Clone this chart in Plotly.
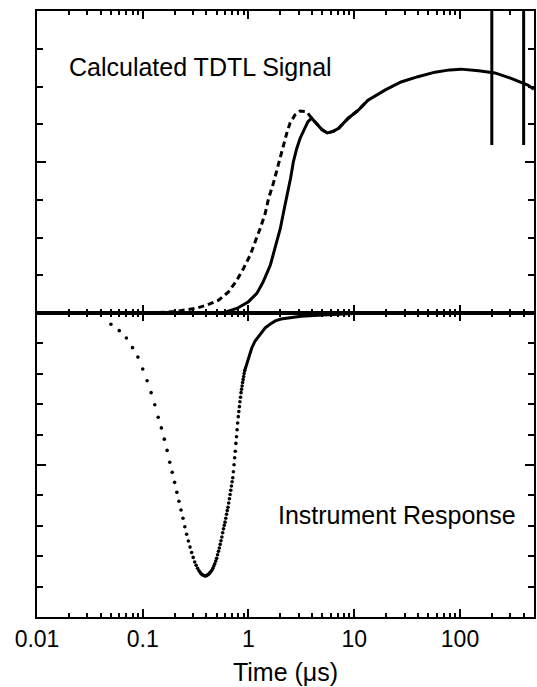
import plotly.graph_objects as go

# ---------------- data ----------------
# Calculated TDTL signal, solid curve (time in µs, arbitrary units)
sig_t = [0.40, 0.50, 0.581, 0.776, 1.0, 1.20, 1.38, 1.61, 1.79, 2.00, 2.15, 2.32, 2.50, 2.66,
         2.86, 3.08, 3.45, 3.65, 3.96, 4.38, 4.94, 5.54, 6.33, 7.12, 8.78, 11.0, 13.5, 19.7,
         27.7, 40, 58.1, 80, 102, 150, 214, 300, 438, 500]
sig_y = [0.0, 0.0, 0.01, 0.12, 0.30, 0.52, 0.83, 1.27, 1.71, 2.24, 2.68, 3.12, 3.57, 4.01,
         4.36, 4.63, 4.93, 5.07, 5.16, 5.03, 4.86, 4.77, 4.81, 4.89, 5.16, 5.38, 5.64, 5.91,
         6.12, 6.26, 6.38, 6.44, 6.46, 6.42, 6.36, 6.22, 6.04, 5.93]

# Calculated TDTL signal, dashed curve
dash_t = [0.114, 0.188, 0.314, 0.404, 0.521, 0.648, 0.776, 0.897, 1.04, 1.16, 1.29, 1.44,
          1.55, 1.72, 1.85, 1.99, 2.14, 2.30, 2.47, 2.76, 3.07, 3.55, 3.96, 4.38, 4.94, 5.54,
          6.33, 7.12, 8.78, 11.0, 13.5]
dash_y = [0.0, 0.03, 0.12, 0.21, 0.34, 0.56, 0.87, 1.18, 1.54, 1.89, 2.24, 2.64,
          3.04, 3.44, 3.79, 4.14, 4.45, 4.76, 5.03, 5.25, 5.35, 5.33, 5.16, 5.03, 4.86, 4.77,
          4.81, 4.89, 5.16, 5.38, 5.64]

# Vertical marker lines in the upper panel
marker_times = [200, 400]
marker_bottom = 4.45
marker_top = 8

# Instrument response, sampled points (dotted part)
ir_t = [0.05, 0.06, 0.07, 0.08, 0.09, 0.10, 0.11, 0.12, 0.13, 0.14, 0.15, 0.16, 0.17, 0.18,
        0.19, 0.20, 0.21, 0.22, 0.23, 0.24, 0.25, 0.26, 0.27, 0.28, 0.29, 0.30, 0.31, 0.32,
        0.33, 0.34, 0.35, 0.36, 0.37, 0.38, 0.39, 0.40, 0.41, 0.42, 0.43, 0.44, 0.45, 0.46,
        0.47, 0.48, 0.49, 0.50, 0.51, 0.52, 0.53, 0.54, 0.55, 0.56, 0.57, 0.58, 0.59, 0.60,
        0.61, 0.62, 0.63, 0.64, 0.65, 0.66, 0.67, 0.68, 0.69, 0.70, 0.71, 0.72, 0.73, 0.74,
        0.75, 0.76, 0.77, 0.78, 0.79, 0.80, 0.81, 0.82, 0.83, 0.84, 0.85, 0.86, 0.87, 0.88,
        0.89, 0.90, 0.91, 0.92]
ir_y = [-0.37, -0.58, -0.82, -1.14, -1.45, -1.84, -2.23, -2.62, -3.02, -3.43, -3.78, -4.15,
        -4.52, -4.91, -5.24, -5.57, -5.90, -6.19, -6.48, -6.75, -7.03, -7.28, -7.50, -7.70,
        -7.88, -8.04, -8.19, -8.30, -8.40, -8.48, -8.54, -8.59, -8.62, -8.64, -8.65, -8.64,
        -8.62, -8.59, -8.55, -8.51, -8.46, -8.40, -8.32, -8.25, -8.16, -8.07, -7.95, -7.84,
        -7.73, -7.61, -7.49, -7.37, -7.23, -7.10, -6.98, -6.88, -6.75, -6.62, -6.50, -6.39,
        -6.25, -6.11, -5.97, -5.83, -5.69, -5.55, -5.42, -5.22, -4.99, -4.76, -4.55, -4.29,
        -4.07, -3.84, -3.62, -3.41, -3.24, -3.08, -2.92, -2.77, -2.62, -2.51, -2.40, -2.29,
        -2.19, -2.09, -1.99, -1.90]

# Instrument response, continuous tail
tail_t = [0.92, 1.0, 1.074, 1.155, 1.29, 1.44, 1.61, 1.79, 2.03, 2.37, 3.14, 4.59, 7.07, 10.9, 20]
tail_y = [-1.90, -1.48, -1.15, -0.92, -0.69, -0.49, -0.36, -0.26, -0.20, -0.16, -0.11, -0.07,
          -0.03, -0.01, 0.0]

tick_vals = [0.01, 0.1, 1, 10, 100]
tick_text = ["0.01", "0.1", "1", "10", "100"]

# ---------------- figure ----------------
FONT = "Liberation Sans, Arial, Helvetica, sans-serif"
fig = go.Figure()

fig.add_trace(go.Scatter(x=dash_t, y=dash_y, mode="lines", xaxis="x", yaxis="y",
                         line=dict(color="black", width=3, dash="6px,4px"), showlegend=False))
fig.add_trace(go.Scatter(x=sig_t, y=sig_y, mode="lines", xaxis="x", yaxis="y",
                         line=dict(color="black", width=3), showlegend=False))
for t in marker_times:
    fig.add_trace(go.Scatter(x=[t, t], y=[marker_bottom, marker_top], mode="lines",
                             xaxis="x", yaxis="y", line=dict(color="black", width=3),
                             showlegend=False))
fig.add_trace(go.Scatter(x=ir_t, y=ir_y, mode="markers", xaxis="x2", yaxis="y2",
                         marker=dict(color="black", size=3.6), showlegend=False))
fig.add_trace(go.Scatter(x=tail_t, y=tail_y, mode="lines", xaxis="x2", yaxis="y2",
                         line=dict(color="black", width=3), showlegend=False))

split = 304 / 606

xcommon = dict(type="log", range=[-2, 2.70], showgrid=False, zeroline=False,
               showline=True, linecolor="black", linewidth=2, mirror="allticks",
               ticks="inside", ticklen=8, tickwidth=1.5, tickcolor="black",
               tickvals=tick_vals,
               minor=dict(ticks="inside", ticklen=4, tickwidth=1.5, tickcolor="black",
                          dtick="D1", showgrid=False),
               domain=[0, 1])

ycommon = dict(showgrid=False, zeroline=False, showline=True, linecolor="black",
               linewidth=2, mirror="allticks", ticks="inside", ticklen=9, tickwidth=1.5,
               tickcolor="black", showticklabels=False)

fig.update_layout(
    width=537, height=687,
    margin=dict(l=37, r=1, t=11, b=70),
    paper_bgcolor="white", plot_bgcolor="white",
    font=dict(family=FONT, color="black", size=23),
    xaxis=dict(**xcommon, anchor="y", showticklabels=False),
    xaxis2=dict(**xcommon, anchor="y2", matches="x", ticktext=tick_text,
                showticklabels=True, tickfont=dict(size=23, family=FONT),
                ticklabelstandoff=0,
                title=dict(text="Time (μs)", font=dict(size=25, family=FONT), standoff=13)),
    yaxis=dict(**ycommon, domain=[split, 1], range=[0, 8], anchor="x",
               tick0=0, dtick=4,
               minor=dict(ticks="inside", ticklen=6, tickwidth=1.5, tickcolor="black",
                          dtick=1, showgrid=False)),
    yaxis2=dict(**ycommon, domain=[0, split], range=[-10, 0], anchor="x2",
                tick0=0, dtick=5,
                minor=dict(ticks="inside", ticklen=6, tickwidth=1.5, tickcolor="black",
                           dtick=1, showgrid=False)),
    annotations=[
        dict(text="Calculated TDTL Signal", xref="paper", yref="paper",
             x=(67 - 37) / 499, y=(617 - 67) / 606, xanchor="left", yanchor="middle",
             showarrow=False, font=dict(size=25, family=FONT)),
        dict(text="Instrument Response", xref="paper", yref="paper",
             x=(277 - 37) / 499, y=(617 - 515) / 606, xanchor="left", yanchor="middle",
             showarrow=False, font=dict(size=25, family=FONT)),
    ],
)

fig.write_html("out.html")
